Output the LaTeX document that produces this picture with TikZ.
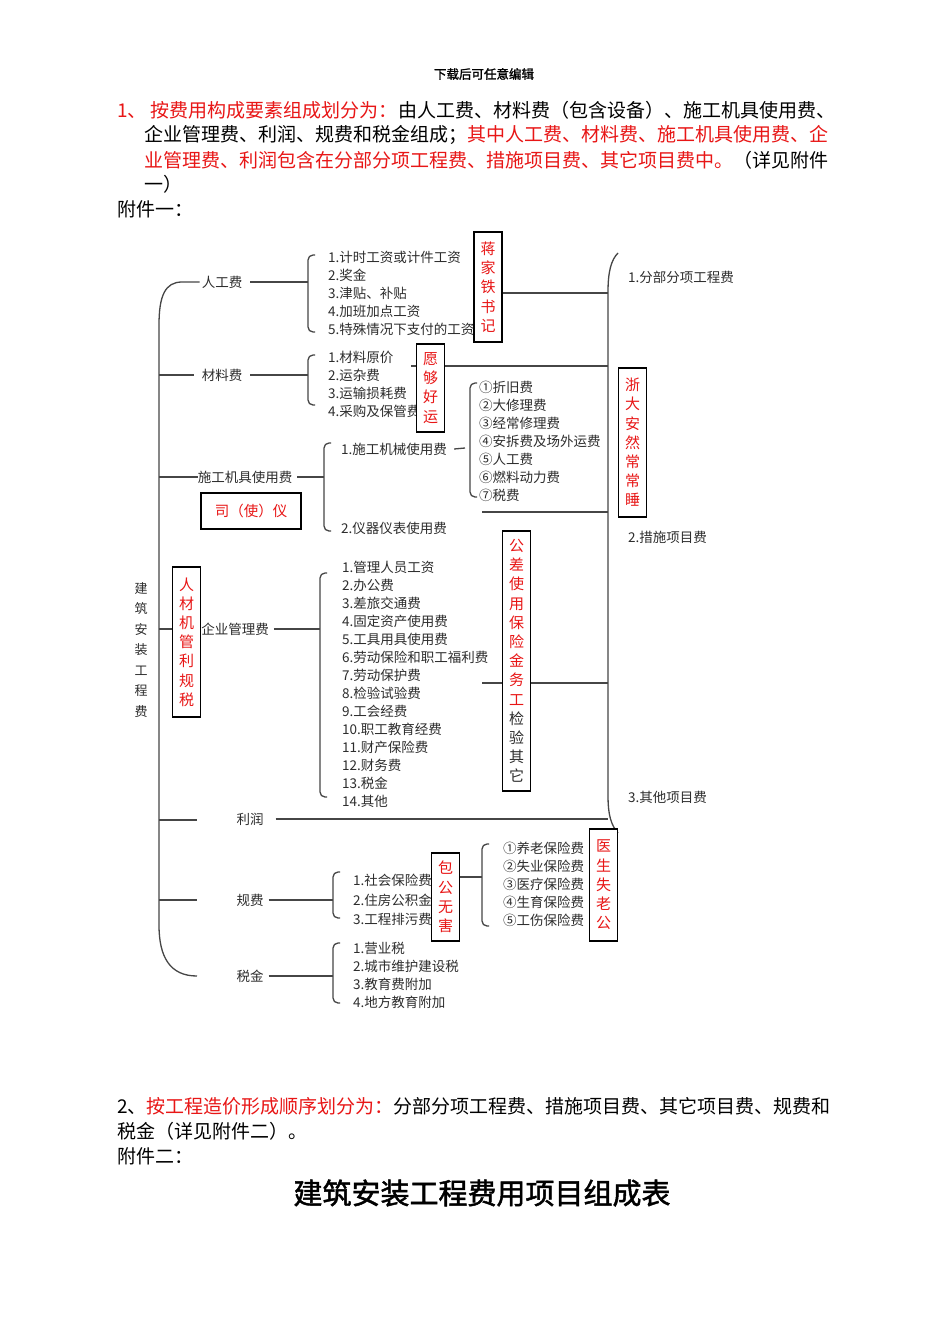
\documentclass[tikz,border=0pt]{standalone}
\usepackage{fontspec}
\setmainfont{Noto Sans CJK SC}
\newfontfamily\heavycjk[FakeBold=1.6]{Noto Sans CJK SC}
\definecolor{rd}{RGB}{232,22,22}
\definecolor{gy}{RGB}{45,45,45}
\definecolor{ln}{RGB}{70,70,70}
\newcommand{\brk}[3]{\draw[conn,rounded corners=5pt] (#1+7,#2) -- (#1,#2) -- (#1,#3) -- (#1+7,#3);}
\begin{document}
\begin{tikzpicture}[x=1pt,y=-1pt,
 body/.style={anchor=west,inner sep=0pt,font=\fontsize{19}{19}\selectfont},
 itm/.style={anchor=west,inner sep=0pt,text=gy,font=\fontsize{13.5}{13.5}\selectfont},
 lab/.style={inner sep=0pt,text=gy,font=\fontsize{13.5}{13.5}\selectfont},
 vbox/.style={draw=black,fill=white,line width=1.3pt,inner sep=0pt,minimum width=28pt,text=rd,align=center,font=\fontsize{15}{19.2}\selectfont},
 conn/.style={draw=ln,line width=1.3pt},
]
\fill[white] (0,0) rectangle (950,1344);
\useasboundingbox (0,0) rectangle (950,1344);

% header and paragraph 1
\node[inner sep=0pt,font=\heavycjk\fontsize{12.5}{12.5}\selectfont] (hdr) at (484,74) {下载后可任意编辑};
\node[body] (p1) at (117,110) {\textcolor{rd}{1、 按费用构成要素组成划分为：}由人工费、材料费（包含设备）、施工机具使用费、};
\node[body] (p2) at (144,135) {企业管理费、利润、规费和税金组成；\textcolor{rd}{其中人工费、材料费、施工机具使用费、企}};
\node[body] (p3) at (144,160) {\textcolor{rd}{业管理费、利润包含在分部分项工程费、措施项目费、其它项目费中。}（详见附件};
\node[body] (p4) at (144,184) {一）};
\node[body] (p5) at (117,209) {附件一：};

% level-1 labels
\node[lab] (rg) at (222,282) {人工费};
\node[lab] (cl) at (222,375) {材料费};
\node[lab] (jj) at (245,477) {施工机具使用费};
\node[lab] (qy) at (235,629) {企业管理费};
\node[lab] (lr) at (250,819) {利润};
\node[lab] (gf) at (250,900) {规费};
\node[lab] (sj) at (250,976) {税金};
\node[inner sep=0pt,text=gy,align=center,font=\fontsize{13}{20.5}\selectfont] (root) at (141,650) {建\\筑\\安\\装\\工\\程\\费};

% spine coordinates
\coordinate (s-cl) at (159,375);
\coordinate (s-jj) at (159,477);
\coordinate (s-qy) at (159,629);
\coordinate (s-lr) at (159,820);
\coordinate (s-gf) at (159,900);
\coordinate (e-sj) at (197,976);

\draw[conn] ([xshift=-2pt]rg.west) -- (182,282) .. controls (165,282) and (159,296) .. (159,325) -- (159,925) .. controls (159,957) and (170,976) .. (e-sj);
\draw[conn] (s-cl) -- ([xshift=-8pt]cl.west);
\draw[conn] (s-jj) -- (jj.west);
\draw[conn] (s-lr) -- ++(38,0);
\draw[conn] (s-gf) -- ++(38,0);

% brace coordinates
\coordinate (k1) at (308,282);
\coordinate (k2) at (308,375);
\coordinate (k3) at (324,477);
\coordinate (k4) at (470,448);
\coordinate (k5) at (320,629);
\coordinate (k6) at (333,900);
\coordinate (k7) at (482,877);
\coordinate (k8) at (333,976);
\brk{308}{255}{332}
\brk{308}{355}{405}
\brk{324}{443}{531}
\brk{470}{383}{497}
\brk{320}{573}{797}
\brk{333}{872}{918}
\brk{482}{844}{926}
\brk{333}{943}{1003}

\draw[conn] ([xshift=8pt]rg.east) -- (k1);
\draw[conn] ([xshift=8pt]cl.east) -- (k2);
\draw[conn] ([xshift=5pt]jj.east) -- (k3);
\draw[conn] ([xshift=5pt]qy.east) -- (k5);
\draw[conn] ([xshift=5pt]gf.east) -- (k6);
\draw[conn] ([xshift=5pt]sj.east) -- (k8);

% items
\foreach \t [count=\i] in {1.计时工资或计件工资,2.奖金,3.津贴、补贴,4.加班加点工资,5.特殊情况下支付的工资}
  \node[itm] (a\i) at (328,{239+18*\i}) {\t};
\foreach \t [count=\i] in {1.材料原价,2.运杂费,3.运输损耗费,4.采购及保管费}
  \node[itm] (b\i) at (328,{339+18*\i}) {\t};
\node[itm] (m1) at (341,449) {1.施工机械使用费};
\node[itm] (m2) at (341,528) {2.仪器仪表使用费};
\draw[conn] ([xshift=7pt]m1.east) -- ([xshift=-5pt]k4);
\foreach \t [count=\i] in {①折旧费,②大修理费,③经常修理费,④安拆费及场外运费,⑤人工费,⑥燃料动力费,⑦税费}
  \node[itm] (c\i) at (479,{369+18*\i}) {\t};
\foreach \t [count=\i] in {1.管理人员工资,2.办公费,3.差旅交通费,4.固定资产使用费,5.工具用具使用费,6.劳动保险和职工福利费,7.劳动保护费,8.检验试验费,9.工会经费,10.职工教育经费,11.财产保险费,12.财务费,13.税金,14.其他}
  \node[itm] (d\i) at (342,{549+18*\i}) {\t};
\foreach \t [count=\i] in {1.社会保险费,2.住房公积金,3.工程排污费}
  \node[itm] (e\i) at (353,{861+19.5*\i}) {\t};
\foreach \t [count=\i] in {①养老保险费,②失业保险费,③医疗保险费,④生育保险费,⑤工伤保险费}
  \node[itm] (f\i) at (503,{830+18*\i}) {\t};
\foreach \t [count=\i] in {1.营业税,2.城市维护建设税,3.教育费附加,4.地方教育附加}
  \node[itm] (g\i) at (353,{930+18*\i}) {\t};

% right spine
\draw[conn] (618,253) .. controls (611,260) and (608,272) .. (608,292) -- (608,795) .. controls (608,815) and (611,825) .. (618,833);
\coordinate (r1) at (608,293);
\coordinate (r2) at (608,366);
\coordinate (r3) at (608,512);
\coordinate (r4) at (608,683);
\coordinate (r5) at (608,819);
\coordinate (l2) at (411,366);
\coordinate (l3) at (482,512);
\coordinate (l4) at (482,683);
\node[itm] (t1) at (628,277) {1.分部分项工程费};
\node[itm] (t2) at (628,537) {2.措施项目费};
\node[itm] (t3) at (628,797) {3.其他项目费};

\draw[conn] (l2) -- (r2);
\draw[conn] (l3) -- (r3);
\draw[conn] (l4) -- (r4);
\draw[conn] ([xshift=12pt]lr.east |- r5) -- (r5);

% boxes
\node[vbox,minimum height=110pt] (jt) at (488,287) {蒋\\家\\铁\\书\\记};
\draw[conn] (r1 -| jt.east) -- (r1);
\node[vbox,minimum height=88pt] (yg) at (430.5,388) {愿\\够\\好\\运};
\node[vbox,minimum height=149pt] (zd) at (632.5,442.5) {浙\\大\\安\\然\\常\\常\\睡};
\node[vbox,minimum width=100pt,minimum height=36pt,font=\fontsize{14.5}{14.5}\selectfont] (sy) at (251,511) {司（使）仪};
\node[vbox,minimum height=150pt] (rc) at (186.5,642) {人\\材\\机\\管\\利\\规\\税};
\draw[conn] (s-qy) -- (s-qy -| rc.west);
\node[vbox,minimum height=260pt] (gc) at (516.5,661) {公\\差\\使\\用\\保\\险\\金\\务\\工\\\textcolor{gy}{检}\\\textcolor{gy}{验}\\\textcolor{gy}{其}\\\textcolor{gy}{它}};
\node[vbox,minimum height=88pt] (bg) at (445.5,897) {包\\公\\无\\害};
\draw[conn] (k7 -| bg.east) -- (k7);
\node[vbox,minimum height=112pt] (ys) at (603.5,885) {医\\生\\失\\老\\公};

% paragraph 2
\node[body] (q1) at (117,1106) {2、\textcolor{rd}{按工程造价形成顺序划分为：}分部分项工程费、措施项目费、其它项目费、规费和};
\node[body] (q2) at (117,1131) {税金（详见附件二）。};
\node[body] (q3) at (117,1156) {附件二：};
\node[inner sep=0pt,font=\heavycjk\fontsize{29}{29}\selectfont] (ttl) at (482,1193) {建筑安装工程费用项目组成表};
\end{tikzpicture}
\end{document}
